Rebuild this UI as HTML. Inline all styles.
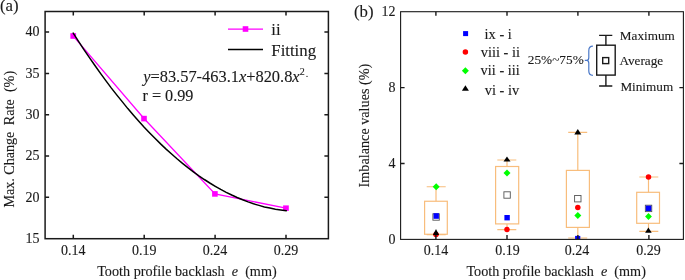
<!DOCTYPE html>
<html><head><meta charset="utf-8">
<style>
html,body{margin:0;padding:0;background:#fff;width:685px;height:280px;overflow:hidden}
svg{display:block;will-change:transform}
text{font-family:"Liberation Serif",serif;fill:#1a1a1a;stroke:#1a1a1a;stroke-width:0.12px}
</style></head><body>
<svg width="685" height="280" viewBox="0 0 685 280">
<!-- ============ Panel (a) ============ -->
<text x="-0.1" y="11.4" font-size="16.8">(a)</text>
<g font-size="14" text-anchor="end">
  <text x="39.6" y="36.4">40</text>
  <text x="39.6" y="77.7">35</text>
  <text x="39.6" y="119">30</text>
  <text x="39.6" y="160.3">25</text>
  <text x="39.6" y="201.5">20</text>
  <text x="39.6" y="242.8">15</text>
</g>
<g font-size="14" text-anchor="middle">
  <text x="73.3" y="255">0.14</text>
  <text x="144.2" y="255">0.19</text>
  <text x="215.1" y="255">0.24</text>
  <text x="286" y="255">0.29</text>
</g>
<text x="97.2" y="276.2" font-size="14.2" xml:space="preserve">Tooth profile backlash  <tspan font-style="italic">e</tspan>  (mm)</text>
<text transform="translate(13.8,207.5) rotate(-90)" font-size="14.2"><tspan letter-spacing="-0.07">Max. Change</tspan><tspan x="82.3">Rate</tspan><tspan x="115.4">(%)</tspan></text>

<!-- data line -->
<path fill="none" stroke="#ff00ff" stroke-width="1.3" d="M73.3,36.1 L144,118.5 L215,194 L286,208.1"/>
<g fill="#ff00ff">
  <rect x="70.4" y="33.2" width="5.7" height="5.6"/>
  <rect x="141.2" y="115.8" width="5.6" height="5.6"/>
  <rect x="212.1" y="191.1" width="5.6" height="5.6"/>
  <rect x="283.1" y="205.4" width="5.7" height="5.5"/>
</g>
<!-- fitting curve -->
<path fill="none" stroke="#000" stroke-width="1.5" stroke-linecap="round" d="M73.2,33.1 L78.7,41.6 84.1,49.9 89.6,57.9 95.1,65.8 100.5,73.4 106.0,80.9 111.4,88.1 116.9,95.1 122.4,101.9 127.8,108.6 133.3,115.0 138.8,121.2 144.2,127.2 149.7,132.9 155.2,138.5 160.6,143.9 166.1,149.1 171.6,154.0 177.0,158.8 182.5,163.4 187.9,167.7 193.4,171.8 198.9,175.8 204.3,179.5 209.8,183.0 215.3,186.3 220.7,189.4 226.2,192.3 231.7,195.0 237.1,197.5 242.6,199.8 248.1,201.9 253.5,203.8 259.0,205.4 264.4,206.9 269.9,208.1 275.4,209.2 280.8,210.0 286.3,210.7"/>

<g stroke="#1a1a1a" stroke-width="1.5" fill="none">
  <rect x="45.1" y="11.5" width="283.3" height="227.2"/>
  <path d="M45.1 32.1h4M45.1 73.4h4M45.1 114.7h4M45.1 156h4M45.1 197.2h4"/>
  <path d="M328.4 32.1h-4M328.4 73.4h-4M328.4 114.7h-4M328.4 156h-4M328.4 197.2h-4"/>
  <path d="M73.3 238.7v-3.9M144.2 238.7v-3.9M215.1 238.7v-3.9M286 238.7v-3.9"/>
  <path d="M73.3 11.5v4M144.2 11.5v4M215.1 11.5v4M286 11.5v4"/>
</g>

<!-- legend -->
<path d="M228 29.1h35" stroke="#ff00ff" stroke-width="1.3"/>
<rect x="242.7" y="26.2" width="5.6" height="5.6" fill="#ff00ff"/>
<path d="M228 49.6h35" stroke="#000" stroke-width="1.5"/>
<text x="271.3" y="35" font-size="16.8">ii</text>
<text x="271.3" y="55.6" font-size="16.8">Fitting</text>
<text x="143.2" y="81.6" font-size="16.4"><tspan font-style="italic">y</tspan>=83.57-463.1<tspan font-style="italic">x</tspan>+820.8<tspan font-style="italic">x</tspan><tspan font-size="10" dy="-6.5">2</tspan><tspan font-size="10" dx="1" dy="2.2">.</tspan></text>
<text x="142.5" y="100.5" font-size="16.2">r = 0.99</text>

<!-- ============ Panel (b) ============ -->
<text x="354" y="16.5" font-size="16.8">(b)</text>
<g font-size="14" text-anchor="end">
  <text x="395.5" y="16.2">12</text>
  <text x="395.6" y="92.1">8</text>
  <text x="395.6" y="168">4</text>
  <text x="395.6" y="243.9">0</text>
</g>
<g font-size="14" text-anchor="middle">
  <text x="436" y="255.3">0.14</text>
  <text x="507.5" y="254.9">0.19</text>
  <text x="577" y="255.3">0.24</text>
  <text x="648.5" y="254.9">0.29</text>
</g>
<text x="466.4" y="276.2" font-size="14.2" xml:space="preserve">Tooth profile backlash  <tspan font-style="italic">e</tspan>  (mm)</text>
<text transform="translate(368.5,187.4) rotate(-90)" font-size="14.2">Imbalance values (%)</text>

<!-- boxes -->
<g stroke="#f8bd7c" stroke-width="1.2" fill="none">
  <!-- 0.14 -->
  <rect x="424.6" y="201.25" width="22.7" height="33"/>
  <path d="M436 186.75V201.25M426.7 186.75h19M426.7 234.6h19"/>
  <!-- 0.19 -->
  <rect x="495.6" y="166.5" width="23.1" height="57.4"/>
  <path d="M507 160V166.5M507 223.9V229.6M497.3 160h19M497.3 229.6h19"/>
  <!-- 0.24 -->
  <rect x="566.4" y="170.4" width="23" height="57"/>
  <path d="M577.8 132.4V170.4M577.8 227.4V238M568.2 132.4h19M568.2 238h19"/>
  <!-- 0.29 -->
  <rect x="636.7" y="192.3" width="22.8" height="31"/>
  <path d="M648.5 177V192.3M648.5 223.3V231.3M639.3 177h19M639.3 231.3h19"/>
</g>
<!-- average open squares -->
<g fill="#fff" stroke="#555" stroke-width="0.9">
  <rect x="432.9" y="213.8" width="6.4" height="6.4"/>
  <rect x="503.9" y="191.8" width="6.4" height="6.4"/>
  <rect x="574.6" y="195.5" width="6.4" height="6.4"/>
  <rect x="645.35" y="205.2" width="6.4" height="6.4"/>
</g>
<!-- blue squares -->
<g fill="#0000ff">
  <rect x="433.5" y="213.2" width="5.4" height="5.6"/>
  <rect x="504.4" y="215" width="5.4" height="5.4"/>
  <rect x="575.1" y="235.9" width="5.2" height="3.2"/>
  <rect x="645.8" y="205.6" width="5.5" height="5.5"/>
</g>
<!-- red circles -->
<g fill="#ff0000">
  <circle cx="436" cy="234.5" r="2.8"/>
  <circle cx="507" cy="229.6" r="2.75"/>
  <circle cx="577.8" cy="207.5" r="2.75"/>
  <circle cx="648.5" cy="177" r="2.75"/>
</g>
<!-- green diamonds -->
<g fill="#00ff00">
  <path d="M436.2 183.3l3.5 3.5-3.5 3.5-3.5-3.5z"/>
  <path d="M507 169.5l3.5 3.5-3.5 3.5-3.5-3.5z"/>
  <path d="M577.8 212.1l3.5 3.5-3.5 3.5-3.5-3.5z"/>
  <path d="M648.5 213l3.4 3.5-3.4 3.5-3.4-3.5z"/>
</g>
<!-- black triangles -->
<g fill="#000">
  <path d="M436 229.1l3.1 5.8h-6.2z"/>
  <path d="M507 156.6l3.5 5h-7z"/>
  <path d="M577.8 129l3.5 5.6h-7z"/>
  <path d="M648.4 227.6l3.3 5.2h-6.6z"/>
</g>

<g stroke="#1a1a1a" stroke-width="1.1" fill="none">
  <rect x="400.6" y="11.7" width="282.8" height="227.7"/>
</g>
<g stroke="#1a1a1a" stroke-width="1.4" fill="none">
  <path d="M400.6 87.6h4M400.6 163.5h4"/>
  <path d="M683.4 87.6h-4M683.4 163.5h-4"/>
  <path d="M435.9 239.4v-4.4M507 239.4v-4.4M577.9 239.4v-4.4M648.9 239.4v-4.4"/>
  <path d="M435.9 11.7v4M507 11.7v4M577.9 11.7v4M648.9 11.7v4"/>
</g>

<!-- legend symbols -->
<rect x="463.1" y="31.1" width="5" height="5" fill="#0000ff"/>
<circle cx="465.4" cy="52" r="2.75" fill="#ff0000"/>
<path d="M465.4 67.3l3.5 3.5-3.5 3.5-3.5-3.5z" fill="#00ff00"/>
<path d="M465.4 85.2l3.5 5.5h-7z" fill="#000"/>
<g font-size="14.4">
  <text x="484.6" y="38.7" xml:space="preserve">ix - i</text>
  <text x="480.8" y="57" xml:space="preserve">viii - ii</text>
  <text x="480.6" y="75.4" xml:space="preserve">vii - iii</text>
  <text x="484.8" y="94.6" xml:space="preserve">vi - iv</text>
</g>
<!-- box legend -->
<g stroke="#1a1a1a" stroke-width="1.4" fill="none">
  <rect x="596.7" y="45.2" width="18.5" height="29.9"/>
  <path d="M605.9 35.4V45.2M605.9 75.1V86M599.1 35.4h13.2M599.1 86h13.2"/>
  <rect x="602.7" y="57.6" width="6" height="6"/>
</g>
<path d="M592.9 46.2Q588.8 46.2 588.8 50.5V57.4Q588.8 60.3 586.6 60.3H584.8M586.6 60.3Q588.8 60.3 588.8 63.2V71Q588.8 75.3 592.9 75.3" stroke="#4a78c8" stroke-width="1.2" fill="none"/>
<g font-size="13.3">
  <text x="527.8" y="64.2">25%~75%</text>
  <text x="619.8" y="39.5" font-size="13.2">Maximum</text>
  <text x="619.4" y="65.1" font-size="13.2">Average</text>
  <text x="620.4" y="91.4" font-size="13.2">Minimum</text>
</g>
</svg>
</body></html>
